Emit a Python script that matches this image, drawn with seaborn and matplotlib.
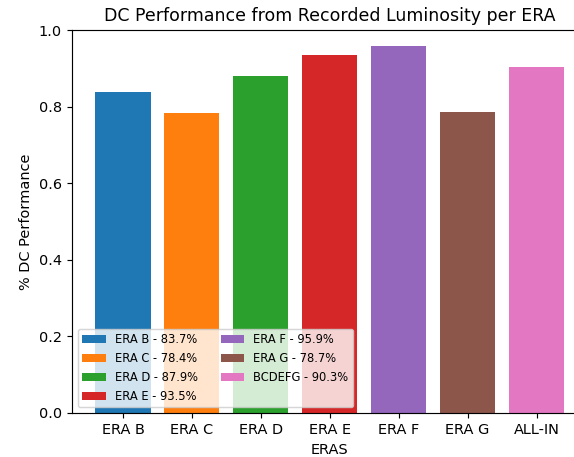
import matplotlib
matplotlib.use("Agg")
import matplotlib.pyplot as plt
import seaborn as sns
import pandas as pd

# Data
eras = ["ERA B", "ERA C", "ERA D", "ERA E", "ERA F", "ERA G", "ALL-IN"]
performance = [0.837, 0.784, 0.879, 0.935, 0.959, 0.787, 0.903]
legend_labels = ["ERA B - 83.7%", "ERA C - 78.4%", "ERA D - 87.9%", "ERA E - 93.5%",
                 "ERA F - 95.9%", "ERA G - 78.7%", "BCDEFG - 90.3%"]
colors = sns.color_palette("tab10", len(eras))

df = pd.DataFrame({"era": eras, "perf": performance})

dpi = 104
W, H = 574, 457
fig = plt.figure(figsize=(W / dpi, H / dpi), dpi=dpi)
# the reference is cropped on the right, so the axes runs past the figure edge
ax = fig.add_axes([72 / W, (H - 413) / H, 515.5 / W, 383 / H])

sns.barplot(data=df, x="era", y="perf", hue="era", palette=colors,
            saturation=1, width=0.8, legend=False, ax=ax)

ax.set_xlim(-0.74, 6.74)
ax.set_ylim(0, 1.0)
ax.set_title("DC Performance from Recorded Luminosity per ERA")
ax.set_xlabel("ERAS")
ax.set_ylabel("% DC Performance")

handles = list(ax.patches)[:len(eras)]
ax.legend(handles, legend_labels, ncol=2, loc="lower left", fontsize=8)

fig.savefig("out.png", dpi=dpi)
